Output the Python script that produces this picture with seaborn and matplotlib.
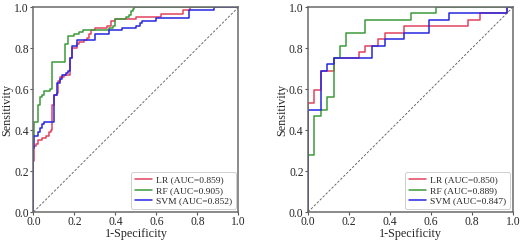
import matplotlib
matplotlib.use("Agg")
import matplotlib.pyplot as plt
import seaborn as sns
import pandas as pd

# ---------------- data (left panel: training set) ----------------
models = ["LR", "RF", "SVM"]
auc_left = [0.859, 0.905, 0.852]
auc_right = [0.850, 0.889, 0.847]

lr_left_fpr = [0, 0, 0.005, 0.01, 0.02, 0.04, 0.06, 0.075, 0.085, 0.09, 0.10, 0.115, 0.12, 0.13,
               0.15, 0.18, 0.18, 0.19, 0.21, 0.22, 0.245, 0.26, 0.27, 0.28, 0.30, 0.36, 0.38,
               0.40, 0.50, 0.62, 0.73, 0.765, 1.0]
lr_left_tpr = [0, 0.25, 0.32, 0.33, 0.35, 0.36, 0.37, 0.39, 0.40, 0.52, 0.57, 0.58, 0.64, 0.66,
               0.67, 0.70, 0.75, 0.80, 0.82, 0.83, 0.84, 0.85, 0.87, 0.89, 0.90, 0.91, 0.93,
               0.94, 0.95, 0.966, 0.985, 1.0, 1.0]

rf_left_fpr = [0, 0, 0.005, 0.02, 0.03, 0.04, 0.05, 0.08, 0.09, 0.155, 0.17, 0.20, 0.22, 0.24,
               0.37, 0.39, 0.40, 0.45, 0.465, 0.475, 0.485, 0.49, 1.0]
rf_left_tpr = [0, 0.37, 0.44, 0.52, 0.56, 0.57, 0.59, 0.60, 0.73, 0.82, 0.86, 0.87, 0.88, 0.89,
               0.90, 0.91, 0.94, 0.95, 0.96, 0.98, 0.99, 1.0, 1.0]

svm_left_fpr = [0, 0, 0.005, 0.02, 0.03, 0.04, 0.05, 0.10, 0.115, 0.13, 0.14, 0.16, 0.17, 0.18,
                0.18, 0.19, 0.21, 0.30, 0.37, 0.43, 0.50, 0.52, 0.53, 0.60, 0.76, 0.88, 1.0]
svm_left_tpr = [0, 0.31, 0.37, 0.39, 0.41, 0.43, 0.44, 0.57, 0.63, 0.65, 0.67, 0.68, 0.69, 0.70,
                0.75, 0.81, 0.84, 0.87, 0.89, 0.90, 0.91, 0.92, 0.93, 0.946, 0.987, 1.0, 1.0]

# ---------------- data (right panel: test set) ----------------
lr_right_fpr = [0, 0, 0.031, 0.0625, 0.125, 0.25, 0.28, 0.34, 0.375, 0.47, 0.78, 0.84, 0.97, 1.0]
lr_right_tpr = [0, 0.53, 0.594, 0.6875, 0.75, 0.78, 0.8125, 0.844, 0.875, 0.906, 0.9375, 0.969, 1.0, 1.0]

rf_right_fpr = [0, 0, 0.031, 0.0625, 0.094, 0.125, 0.156, 0.1875, 0.28, 0.50, 0.625, 1.0]
rf_right_tpr = [0, 0.28, 0.47, 0.50, 0.5625, 0.75, 0.8125, 0.875, 0.9375, 0.969, 1.0, 1.0]

svm_right_fpr = [0, 0, 0.0625, 0.094, 0.125, 0.3125, 0.375, 0.47, 0.59, 0.6875, 0.97, 1.0]
svm_right_tpr = [0, 0.50, 0.6875, 0.72, 0.75, 0.8125, 0.844, 0.875, 0.9375, 0.969, 1.0, 1.0]

ticks = [0.0, 0.2, 0.4, 0.6, 0.8, 1.0]
tick_labels = ["0.0", "0.2", "0.4", "0.6", "0.8", "1.0"]
xlabel = "1-Specificity"
ylabel = "Sensitivity"

colors = {"LR": "#e2445e", "RF": "#3d9a3d", "SVM": "#2727e0"}

# ---------------- plotting ----------------
sns.set_theme(style="ticks")
plt.rcParams["font.family"] = ["Liberation Serif", "DejaVu Serif"]

fig = plt.figure(figsize=(5.23, 2.44), dpi=100)
ax1 = fig.add_axes([0.064, 0.131, 0.392, 0.840])
ax2 = fig.add_axes([0.589, 0.131, 0.392, 0.840])

panels = [
    (ax1, [(lr_left_fpr, lr_left_tpr), (rf_left_fpr, rf_left_tpr), (svm_left_fpr, svm_left_tpr)], auc_left),
    (ax2, [(lr_right_fpr, lr_right_tpr), (rf_right_fpr, rf_right_tpr), (svm_right_fpr, svm_right_tpr)], auc_right),
]

for ax, curves, aucs in panels:
    for name, (fx, ty), auc in zip(models, curves, aucs):
        df = pd.DataFrame({"fpr": fx, "tpr": ty})
        sns.lineplot(data=df, x="fpr", y="tpr", ax=ax, estimator=None, sort=False,
                     drawstyle="steps-post", color=colors[name], linewidth=1.1,
                     label=f"{name} (AUC={auc:.3f})")
    diag = pd.DataFrame({"x": [0, 1], "y": [0, 1]})
    sns.lineplot(data=diag, x="x", y="y", ax=ax, color="#555555",
                 linewidth=0.6, legend=False)
    ax.lines[-1].set_linestyle((0, (3, 2)))
    ax.set_xlim(0, 1)
    ax.set_ylim(0, 1)
    ax.set_xticks(ticks)
    ax.set_xticklabels(tick_labels)
    ax.set_yticks(ticks)
    ax.set_yticklabels(tick_labels)
    ax.tick_params(axis="both", labelsize=8.4, length=2.2, width=0.8, pad=1.0, color="#555555")
    ax.set_xlabel(xlabel, fontsize=8.7, labelpad=0)
    ax.set_ylabel(ylabel, fontsize=8.7, labelpad=0)
    ax.yaxis.set_label_coords(-0.098, 0.5)
    for sp in ax.spines.values():
        sp.set_color("#6a6a6a")
        sp.set_linewidth(1.1)
    leg = ax.legend(loc="lower right", fontsize=6.8, frameon=True, handlelength=1.8,
                    borderpad=0.4, labelspacing=0.2, handletextpad=0.45,
                    borderaxespad=0.3)
    leg.get_frame().set_edgecolor("#bbbbbb")
    leg.get_frame().set_linewidth(0.6)

fig.savefig("out.png", dpi=100)
